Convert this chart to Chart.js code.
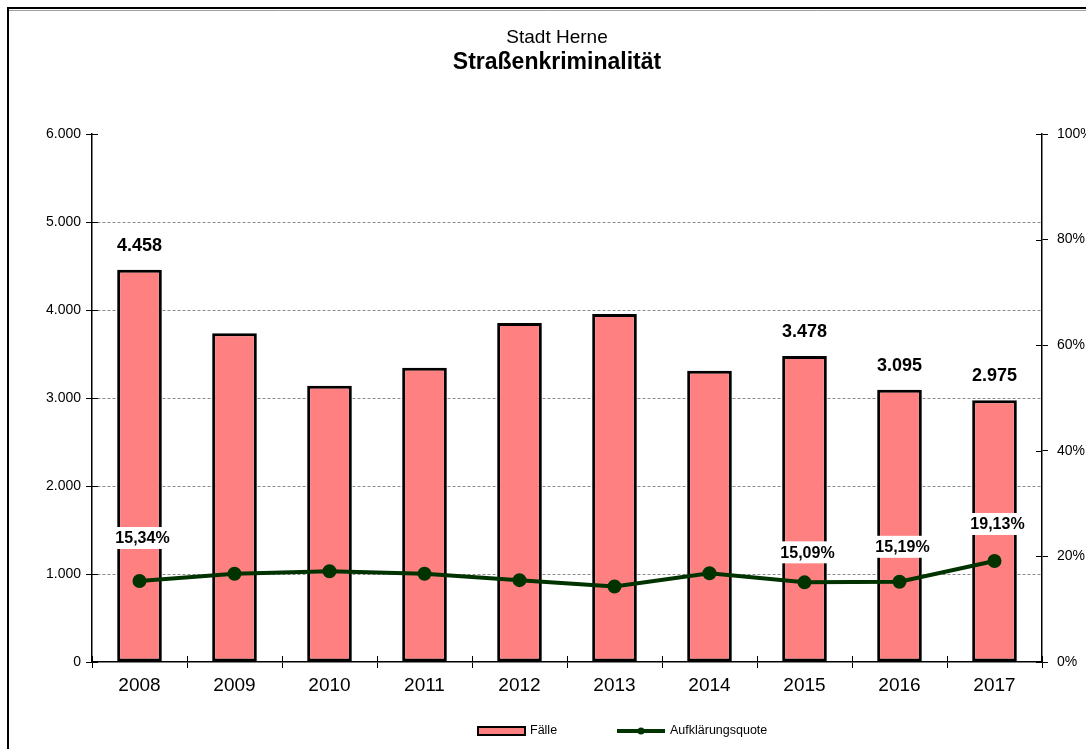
<!DOCTYPE html>
<html>
<head>
<meta charset="utf-8">
<script src="https://cdn.jsdelivr.net/npm/chart.js@4.4.1/dist/chart.umd.min.js"></script>
<style>
  html, body { margin: 0; padding: 0; background: #fff; }
  #wrap { width: 1086px; height: 749px; }
</style>
</head>
<body>
<div id="wrap"><canvas id="chart" width="1086" height="749"></canvas></div>
<script>
// Data
const years = ['2008', '2009', '2010', '2011', '2012', '2013', '2014', '2015', '2016', '2017'];
const cases = [4458, 3735, 3140, 3345, 3852, 3955, 3310, 3478, 3095, 2975];
const clearanceRate = [15.34, 16.7, 17.2, 16.7, 15.5, 14.3, 16.8, 15.09, 15.19, 19.13];
const leftTicks = [0, 1000, 2000, 3000, 4000, 5000, 6000];
const rightTicks = [0, 20, 40, 60, 80, 100];
const labeledYears = ['2008', '2015', '2016', '2017'];

const FONT = "'Liberation Sans', Arial, sans-serif";
const BAR_FILL = '#FF8080';
const LINE_GREEN = '#003300';

const fmtThousands = v => v.toString().replace(/\B(?=(\d{3})+(?!\d))/g, '.');
const fmtPercent = v => v.toFixed(2).replace('.', ',') + '%';

// frame + titles
const frameAndTitle = {
    id: 'frameAndTitle',
    beforeDraw(chart) {
        const ctx = chart.ctx;
        ctx.save();
        ctx.fillStyle = '#fff';
        ctx.fillRect(0, 0, chart.width, chart.height);
        ctx.strokeStyle = '#000';
        ctx.lineWidth = 2;
        ctx.beginPath();
        ctx.moveTo(8, chart.height);
        ctx.lineTo(8, 8);
        ctx.lineTo(chart.width, 8);
        ctx.stroke();
        ctx.strokeStyle = '#a0a0a0';
        ctx.lineWidth = 1;
        ctx.beginPath();
        ctx.moveTo(9, 10.5);
        ctx.lineTo(chart.width, 10.5);
        ctx.stroke();

        ctx.fillStyle = '#000';
        ctx.textAlign = 'center';
        ctx.textBaseline = 'middle';
        ctx.font = '19px ' + FONT;
        ctx.fillText('Stadt Herne', 557, 38);
        ctx.font = 'bold 23px ' + FONT;
        ctx.fillText('Straßenkriminalität', 557, 63);
        ctx.restore();
    }
};

// short tick marks reaching into the plot area
const innerTicks = {
    id: 'innerTicks',
    afterDraw(chart) {
        const {ctx, scales} = chart;
        ctx.save();
        ctx.strokeStyle = '#000';
        ctx.lineWidth = 1;
        ctx.beginPath();
        leftTicks.forEach(v => {
            const y = Math.round(scales.y.getPixelForValue(v)) + 0.5;
            ctx.moveTo(scales.y.right, y);
            ctx.lineTo(scales.y.right + 6, y);
        });
        rightTicks.forEach(v => {
            const y = Math.round(scales.y1.getPixelForValue(v)) + 0.5;
            ctx.moveTo(scales.y1.left - 6, y);
            ctx.lineTo(scales.y1.left, y);
        });
        const xs = scales.x;
        const step = xs.width / years.length;
        for (let k = 0; k <= years.length; k++) {
            const x = Math.round(xs.left + k * step) + 0.5;
            ctx.moveTo(x, xs.top - 6);
            ctx.lineTo(x, xs.top);
        }
        ctx.stroke();
        ctx.restore();
    }
};

// value labels for selected years
const percentLift = { '2008': 43, '2015': 30, '2016': 35, '2017': 37 };
const valueLabels = {
    id: 'valueLabels',
    afterDatasetsDraw(chart) {
        const ctx = chart.ctx;
        const barMeta = chart.getDatasetMeta(0);
        const lineMeta = chart.getDatasetMeta(1);
        ctx.save();
        ctx.textAlign = 'center';
        ctx.textBaseline = 'middle';
        years.forEach((yr, i) => {
            if (!labeledYears.includes(yr)) return;
            const bar = barMeta.data[i];
            ctx.font = 'bold 18px ' + FONT;
            ctx.fillStyle = '#000';
            ctx.fillText(fmtThousands(cases[i]), bar.x, bar.y - 24);

            const pt = lineMeta.data[i];
            const txt = fmtPercent(clearanceRate[i]);
            ctx.font = 'bold 16px ' + FONT;
            const w = ctx.measureText(txt).width;
            const cx = pt.x + 3;
            const cy = pt.y - percentLift[yr];
            ctx.fillStyle = '#fff';
            ctx.fillRect(cx - w / 2 - 3, cy - 11, w + 6, 22);
            ctx.fillStyle = '#000';
            ctx.fillText(txt, cx, cy + 1);
        });
        ctx.restore();
    }
};

// legend under the axis
const bottomLegend = {
    id: 'bottomLegend',
    afterDraw(chart) {
        const ctx = chart.ctx;
        const y = 731;
        ctx.save();
        ctx.fillStyle = BAR_FILL;
        ctx.fillRect(478, 727, 47, 8);
        ctx.strokeStyle = '#000';
        ctx.lineWidth = 2;
        ctx.strokeRect(478, 727, 47, 8);

        ctx.strokeStyle = LINE_GREEN;
        ctx.lineWidth = 4;
        ctx.beginPath();
        ctx.moveTo(617, y);
        ctx.lineTo(665, y);
        ctx.stroke();
        ctx.fillStyle = LINE_GREEN;
        ctx.beginPath();
        ctx.arc(641, y, 3.5, 0, Math.PI * 2);
        ctx.fill();

        ctx.fillStyle = '#000';
        ctx.font = '12.5px ' + FONT;
        ctx.textAlign = 'left';
        ctx.textBaseline = 'middle';
        ctx.fillText(chart.data.datasets[0].label, 530, y);
        ctx.fillText(chart.data.datasets[1].label, 670, y);
        ctx.restore();
    }
};

new Chart(document.getElementById('chart').getContext('2d'), {
    data: {
        labels: years,
        datasets: [
            {
                type: 'bar',
                label: 'Fälle',
                data: cases,
                yAxisID: 'y',
                backgroundColor: BAR_FILL,
                borderColor: '#000',
                borderWidth: 3,
                borderSkipped: false,
                barPercentage: 0.47,
                categoryPercentage: 1,
                order: 2
            },
            {
                type: 'line',
                label: 'Aufklärungsquote',
                data: clearanceRate,
                yAxisID: 'y1',
                borderColor: LINE_GREEN,
                backgroundColor: LINE_GREEN,
                borderWidth: 4,
                pointRadius: 5,
                pointBackgroundColor: LINE_GREEN,
                pointBorderColor: LINE_GREEN,
                tension: 0,
                order: 1
            }
        ]
    },
    options: {
        responsive: false,
        animation: false,
        events: [],
        layout: { padding: { top: 134, bottom: 47, left: 0, right: 0 } },
        plugins: {
            legend: { display: false },
            title: { display: false },
            tooltip: { enabled: false }
        },
        scales: {
            x: {
                grid: {
                    offset: true,
                    drawOnChartArea: false,
                    color: '#000',
                    tickColor: '#000',
                    tickLength: 6
                },
                border: { color: '#000', width: 1.5 },
                ticks: { color: '#000', font: { family: FONT, size: 19 }, padding: 6 },
                afterFit: s => { s.height = 40; }
            },
            y: {
                position: 'left',
                min: 0,
                max: 6000,
                afterBuildTicks: s => { s.ticks = leftTicks.map(v => ({ value: v })); },
                ticks: {
                    color: '#000',
                    font: { family: FONT, size: 14 },
                    padding: 5,
                    callback: v => fmtThousands(v)
                },
                grid: {
                    color: c => (c.tick && (c.tick.value === 0 || c.tick.value === 6000)) ? 'rgba(0,0,0,0)' : '#8a8a8a',
                    lineWidth: 1,
                    tickColor: '#000',
                    tickLength: 6
                },
                border: { color: '#000', width: 1.5, dash: [3, 2] },
                afterFit: s => { s.width = 92; }
            },
            y1: {
                position: 'right',
                min: 0,
                max: 100,
                afterBuildTicks: s => { s.ticks = rightTicks.map(v => ({ value: v })); },
                ticks: {
                    color: '#000',
                    font: { family: FONT, size: 14 },
                    padding: 9,
                    callback: v => v + '%'
                },
                grid: { drawOnChartArea: false, tickColor: '#000', tickLength: 6 },
                border: { color: '#000', width: 1.5 },
                afterFit: s => { s.width = 44; }
            }
        }
    },
    plugins: [frameAndTitle, innerTicks, valueLabels, bottomLegend]
});
</script>
</body>
</html>
